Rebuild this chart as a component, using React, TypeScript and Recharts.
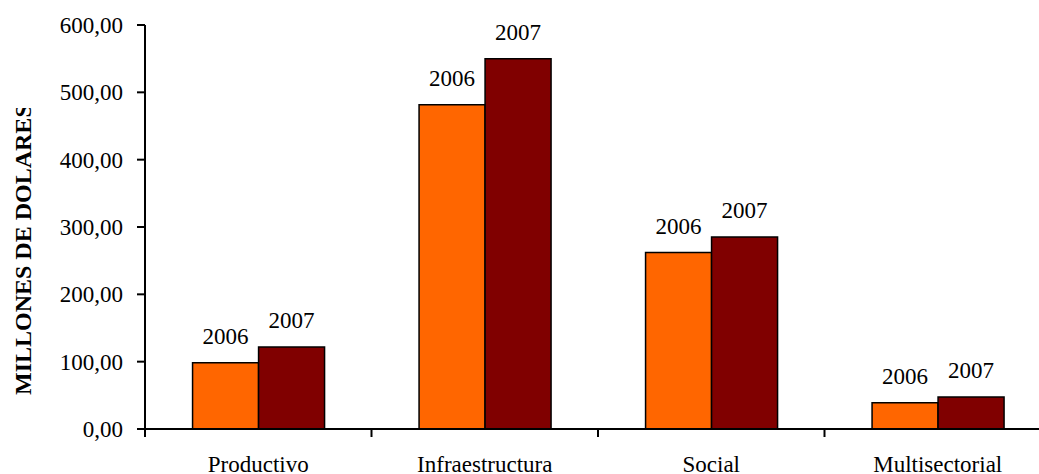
import React from 'react';
import { BarChart, Bar, XAxis, YAxis, LabelList } from 'recharts';

const categories = ['Productivo', 'Infraestructura', 'Social', 'Multisectorial'];
const values2006 = [98.5, 481.5, 262, 39];
const values2007 = [121.8, 550, 285, 47.5];
const seriesNames = ['2006', '2007'];
const yTicks = [0, 100, 200, 300, 400, 500, 600];
const yTitle = 'MILLONES DE DOLARES';

const data = categories.map((c, i) => ({
  name: c,
  v2006: values2006[i],
  v2007: values2007[i],
}));

const CHART_W = 1060;
const CHART_H = 474;
const Y_AXIS_W = 145;
const X_AXIS_H = 45;
const M_TOP = 25;
const M_RIGHT = 9;
const PLOT_W = CHART_W - Y_AXIS_W - M_RIGHT;
const BAND = PLOT_W / categories.length;
const AXIS_Y = CHART_H - X_AXIS_H;
const FONT = "'Times New Roman', 'Liberation Serif', Times, serif";

const fmt = (v: number) => v.toFixed(2).replace('.', ',');

const XTick = (props: any) => {
  const { x, payload } = props;
  const left = x - BAND / 2;
  return (
    <g>
      <line x1={left} y1={AXIS_Y} x2={left} y2={AXIS_Y + 8} stroke="#000" strokeWidth={2} />
      <text x={x} y={AXIS_Y + 43} textAnchor="middle" style={{ fontFamily: FONT, fontSize: 23 }} fill="#000">
        {payload.value}
      </text>
    </g>
  );
};

const makeLabel = (name: string) => (props: any) => {
  const { x, y, width } = props;
  return (
    <text x={x + width / 2} y={y - 19} textAnchor="middle" style={{ fontFamily: FONT, fontSize: 23 }} fill="#000">
      {name}
    </text>
  );
};

export default function App() {
  return (
    <div style={{ position: 'absolute', left: 0, top: 0, width: 1039, height: 474, overflow: 'hidden', background: '#fff', fontFamily: FONT }}>
      <BarChart
        width={CHART_W}
        height={CHART_H}
        data={data}
        margin={{ top: M_TOP, right: M_RIGHT, bottom: 0, left: 0 }}
        barCategoryGap="21%"
        barGap={0}
        style={{ fontFamily: FONT }}
      >
        <XAxis
          dataKey="name"
          height={X_AXIS_H}
          axisLine={{ stroke: '#000', strokeWidth: 2 }}
          tickLine={false}
          tick={<XTick />}
          interval={0}
        />
        <YAxis
          width={Y_AXIS_W}
          domain={[0, 600]}
          ticks={yTicks}
          tickFormatter={fmt}
          axisLine={{ stroke: '#000', strokeWidth: 2 }}
          tickLine={{ stroke: '#000', strokeWidth: 2 }}
          tickSize={8}
          tickMargin={14}
          tick={{ fill: '#000', fontSize: 23, style: { fontFamily: FONT } }}
        />
        <Bar dataKey="v2006" fill="#FF6600" stroke="#000" strokeWidth={1.5} isAnimationActive={false}>
          <LabelList dataKey="v2006" content={makeLabel(seriesNames[0])} />
        </Bar>
        <Bar dataKey="v2007" fill="#800000" stroke="#000" strokeWidth={1.5} isAnimationActive={false}>
          <LabelList dataKey="v2007" content={makeLabel(seriesNames[1])} />
        </Bar>
      </BarChart>
      <svg width={60} height={474} style={{ position: 'absolute', left: 0, top: 0 }}>
        <defs>
          <clipPath id="ytclip">
            <rect x={0} y={108} width={60} height={366} />
          </clipPath>
        </defs>
        <g clipPath="url(#ytclip)">
          <text
            x={0}
            y={0}
            transform="translate(31,395) rotate(-90)"
            textAnchor="start"
            style={{ fontFamily: FONT, fontWeight: 'bold', fontSize: 24 }}
            fill="#000"
          >
            {yTitle}
          </text>
        </g>
      </svg>
    </div>
  );
}
